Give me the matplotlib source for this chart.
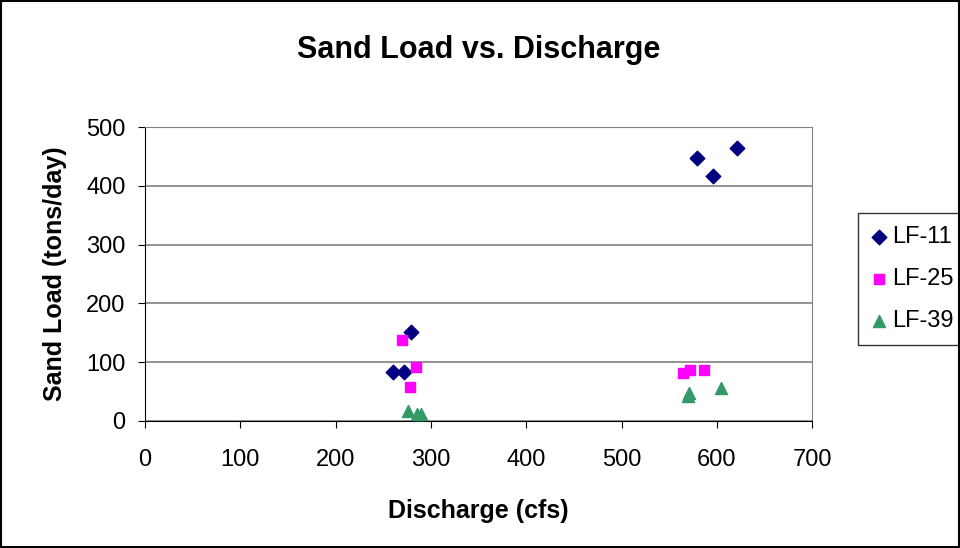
import matplotlib
matplotlib.use('Agg')
import matplotlib.pyplot as plt

plt.rcParams['font.family'] = ['Liberation Sans', 'DejaVu Sans']

# datos
lf11_x = [260, 272, 279, 579, 596, 621]
lf11_y = [84, 84, 151, 448, 417, 465]
lf25_x = [270, 278, 284, 565, 572, 586]
lf25_y = [137, 58, 92, 82, 87, 87]
lf39_x = [276, 285, 290, 570, 571, 604]
lf39_y = [17, 12, 12, 43, 47, 56]

fig = plt.figure(figsize=(9.6, 5.48), dpi=100)
ax = fig.add_axes([0.151, 0.2318, 0.695, 0.5364])

ax.scatter(lf11_x, lf11_y, marker='D', s=55, color='#000080', label='LF-11', zorder=3)
ax.scatter(lf25_x, lf25_y, marker='s', s=60, color='#FF00FF', label='LF-25', zorder=3)
ax.scatter(lf39_x, lf39_y, marker='^', s=75, color='#339966', label='LF-39', zorder=3)

ax.set_xlim(0, 700)
ax.set_ylim(0, 500)
ax.set_xticks(range(0, 701, 100))
ax.set_yticks(range(0, 501, 100))
ax.yaxis.grid(True, color='#808080', linewidth=1.2)
ax.set_axisbelow(True)
for s in ax.spines.values():
    s.set_color('#808080')
ax.spines['bottom'].set_color('black')
ax.spines['left'].set_color('black')
ax.tick_params(labelsize=17, direction='out', length=5)
ax.tick_params(axis='x', pad=15)
ax.tick_params(axis='y', pad=9)

ax.set_title('Sand Load vs. Discharge', fontsize=22, fontweight='bold', pad=50)
ax.set_xlabel('Discharge (cfs)', fontsize=18, fontweight='bold', labelpad=20)
ax.set_ylabel('Sand Load (tons/day)', fontsize=18, fontweight='bold', labelpad=14)

leg = ax.legend(loc='upper left', bbox_to_anchor=(1.069, 0.707), fontsize=17,
                frameon=True, fancybox=False, edgecolor='black',
                handletextpad=0.2, handlelength=0.7, borderpad=0.55,
                labelspacing=0.85, borderaxespad=0)
leg.get_frame().set_linewidth(1)

fig.patches.append(plt.Rectangle((0.001, 0.001), 0.998, 0.997, transform=fig.transFigure,
                                 fill=False, edgecolor='black', linewidth=1.5))

fig.savefig('out.png', dpi=100)
